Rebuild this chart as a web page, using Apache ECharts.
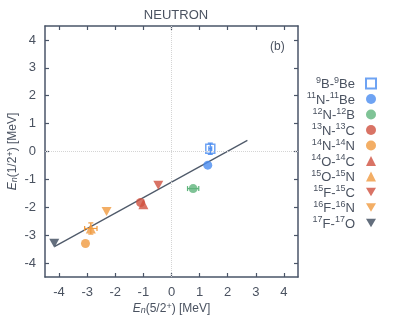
<!DOCTYPE html>
<html>
<head>
<meta charset="utf-8">
<script src="https://cdn.jsdelivr.net/npm/echarts@6/dist/echarts.min.js"></script>
<style>
  html, body { margin: 0; padding: 0; background: #fff; }
  #chart { width: 415px; height: 321px; }
</style>
</head>
<body>
<div id="chart"></div>
<script>
// pairs shown in the legend, top to bottom
const pairNames = ["9B-9Be", "11N-11Be", "12N-12B", "13N-13C", "14N-14N", "14O-14C", "15O-15N", "15F-15C", "16F-16N", "17F-17O"];
const pairSymbols = ["rect", "circle", "circle", "circle", "circle", "triangle", "triangle", "down", "down", "down"];
const pairColors = ["#4a8cf0", "#4a8cf0", "#5fb47c", "#d0503f", "#f09a3e", "#d0503f", "#f09a3e", "#d0503f", "#f09a3e", "#3c4a5c"];
// E_n(5/2+) and E_n(1/2+) in MeV
const xValues = [1.38, 1.29, 0.77, -1.10, -3.06, -1.0, -2.87, -0.47, -2.31, -4.17];
const yValues = [0.10, -0.49, -1.33, -1.83, -3.30, -1.89, -2.76, -1.21, -2.15, -3.29];
const xErrors = [0.05, 0, 0.2, 0, 0, 0, 0.22, 0, 0, 0];
const yErrors = [0.2, 0, 0, 0, 0, 0, 0.2, 0, 0, 0];
// straight fit line
const fitLine = [[-4.15, -3.40], [2.70, 0.40]];
const tickValues = [-4, -3, -2, -1, 0, 1, 2, 3, 4];

const textColor = "#4a5260";
const axisColor = "#4a5568";
const font = "Liberation Sans, Arial, sans-serif";
const downTriangle = "path://M0,0 L10,0 L5,8.7 Z";

const chart = echarts.init(document.getElementById("chart"));

function makeAxis(position, showLabels) {
  return {
    type: "value",
    position,
    min: -4.5,
    max: 4.5,
    axisLine: { show: true, onZero: false, lineStyle: { color: axisColor, width: 1.5 } },
    axisTick: { show: true, inside: true, length: 4, customValues: tickValues, lineStyle: { color: axisColor, width: 1.2 } },
    axisLabel: {
      show: showLabels,
      customValues: tickValues,
      color: textColor,
      fontSize: 13,
      fontFamily: font,
      margin: 9,
    },
    splitLine: { show: false },
  };
}

function legendLabel(name) {
  const m = name.match(/(\d+)([A-Z][a-z]?)-(\d+)([A-Z][a-z]?)/);
  return `{s|${m[1]}}{b|${m[2]}-}{s|${m[3]}}{b|${m[4]}}`;
}

const nameRich = {
  i: { fontStyle: "italic", fontSize: 12, fontFamily: font, color: textColor },
  si: { fontStyle: "italic", fontSize: 9, fontFamily: font, color: textColor, verticalAlign: "bottom", padding: [4, 0, 0, 0] },
  r: { fontSize: 12, fontFamily: font, color: textColor },
  sp: { fontSize: 9, fontFamily: font, color: textColor, verticalAlign: "top", padding: [0, 0, 4, 0] },
};

const scatterSeries = pairNames.map((name, i) => {
  const sym = pairSymbols[i];
  return {
    name,
    type: "scatter",
    symbol: sym === "down" ? downTriangle : sym,
    symbolSize: sym === "down" ? [10, 9] : sym === "triangle" ? 10 : 9,
    itemStyle: sym === "rect"
      ? { color: "#fff", borderColor: pairColors[i], borderWidth: 1.5 }
      : { color: pairColors[i] },
    z: 3,
    data: [[xValues[i], yValues[i]]],
  };
});

const errorData = pairNames.map((_, i) => [xValues[i], yValues[i], xErrors[i], yErrors[i], i]);

const errorSeries = {
  type: "custom",
  z: 4,
  silent: true,
  data: errorData,
  renderItem(params, api) {
    const x = api.value(0), y = api.value(1), dx = api.value(2), dy = api.value(3);
    const color = pairColors[api.value(4)];
    const style = { stroke: color, lineWidth: 1.2 };
    const children = [];
    const cap = 2.5;
    if (dx > 0) {
      const a = api.coord([x - dx, y]), b = api.coord([x + dx, y]);
      children.push({ type: "line", shape: { x1: a[0], y1: a[1], x2: b[0], y2: b[1] }, style });
      children.push({ type: "line", shape: { x1: a[0], y1: a[1] - cap, x2: a[0], y2: a[1] + cap }, style });
      children.push({ type: "line", shape: { x1: b[0], y1: b[1] - cap, x2: b[0], y2: b[1] + cap }, style });
    }
    if (dy > 0) {
      const a = api.coord([x, y - dy]), b = api.coord([x, y + dy]);
      children.push({ type: "line", shape: { x1: a[0], y1: a[1], x2: b[0], y2: b[1] }, style });
      children.push({ type: "line", shape: { x1: a[0] - cap, y1: a[1], x2: a[0] + cap, y2: a[1] }, style });
      children.push({ type: "line", shape: { x1: b[0] - cap, y1: b[1], x2: b[0] + cap, y2: b[1] }, style });
    }
    return { type: "group", children };
  },
};

chart.setOption({
  backgroundColor: "#fff",
  animation: false,
  title: {
    text: "NEUTRON",
    left: 171,
    top: 4,
    textAlign: "center",
    textStyle: { color: textColor, fontSize: 13, fontWeight: "normal", fontFamily: font },
  },
  grid: { left: 45, right: 117, top: 26, bottom: 44, outerBoundsMode: "none", containLabel: false },
  xAxis: [
    Object.assign(makeAxis("bottom", true), {
      name: "{i|E}{si|n}{r|(5/2}{sp|+}{r|) [MeV]}",
      nameLocation: "middle",
      nameGap: 25,
      nameMoveOverlap: false,
      nameTextStyle: { color: textColor, rich: nameRich },
    }),
    makeAxis("top", false),
  ],
  yAxis: [
    Object.assign(makeAxis("left", true), {
      name: "{i|E}{si|n}{r|(1/2}{sp|+}{r|) [MeV]}",
      nameLocation: "middle",
      nameGap: 26,
      nameMoveOverlap: false,
      nameRotate: 90,
      nameTextStyle: { color: textColor, rich: nameRich },
    }),
    makeAxis("right", false),
  ],
  legend: {
    data: pairNames,
    orient: "vertical",
    right: 33,
    top: 71,
    align: "right",
    itemWidth: 10,
    itemHeight: 10,
    itemGap: 0.5,
    formatter: legendLabel,
    textStyle: {
      color: textColor,
      fontFamily: font,
      padding: [0, 6, 0, 0],
      rich: {
        s: { fontSize: 9, fontFamily: font, color: textColor, verticalAlign: "top", lineHeight: 15 },
        b: { fontSize: 13, fontFamily: font, color: textColor, verticalAlign: "bottom", lineHeight: 15 },
      },
    },
  },
  graphic: [
    {
      type: "text",
      left: 270,
      top: 41,
      style: { text: "(b)", fill: textColor, fontSize: 12, fontFamily: font },
    },
  ],
  series: [
    {
      type: "line",
      data: fitLine,
      symbol: "none",
      silent: true,
      z: 2,
      lineStyle: { color: "#4f5a6a", width: 1.3 },
      markLine: {
        silent: true,
        symbol: "none",
        label: { show: false },
        lineStyle: { color: "#d4d4d4", type: "dotted", width: 1 },
        data: [{ xAxis: 0 }, { yAxis: 0 }],
      },
    },
    ...scatterSeries,
    errorSeries,
  ],
});
</script>
</body>
</html>
